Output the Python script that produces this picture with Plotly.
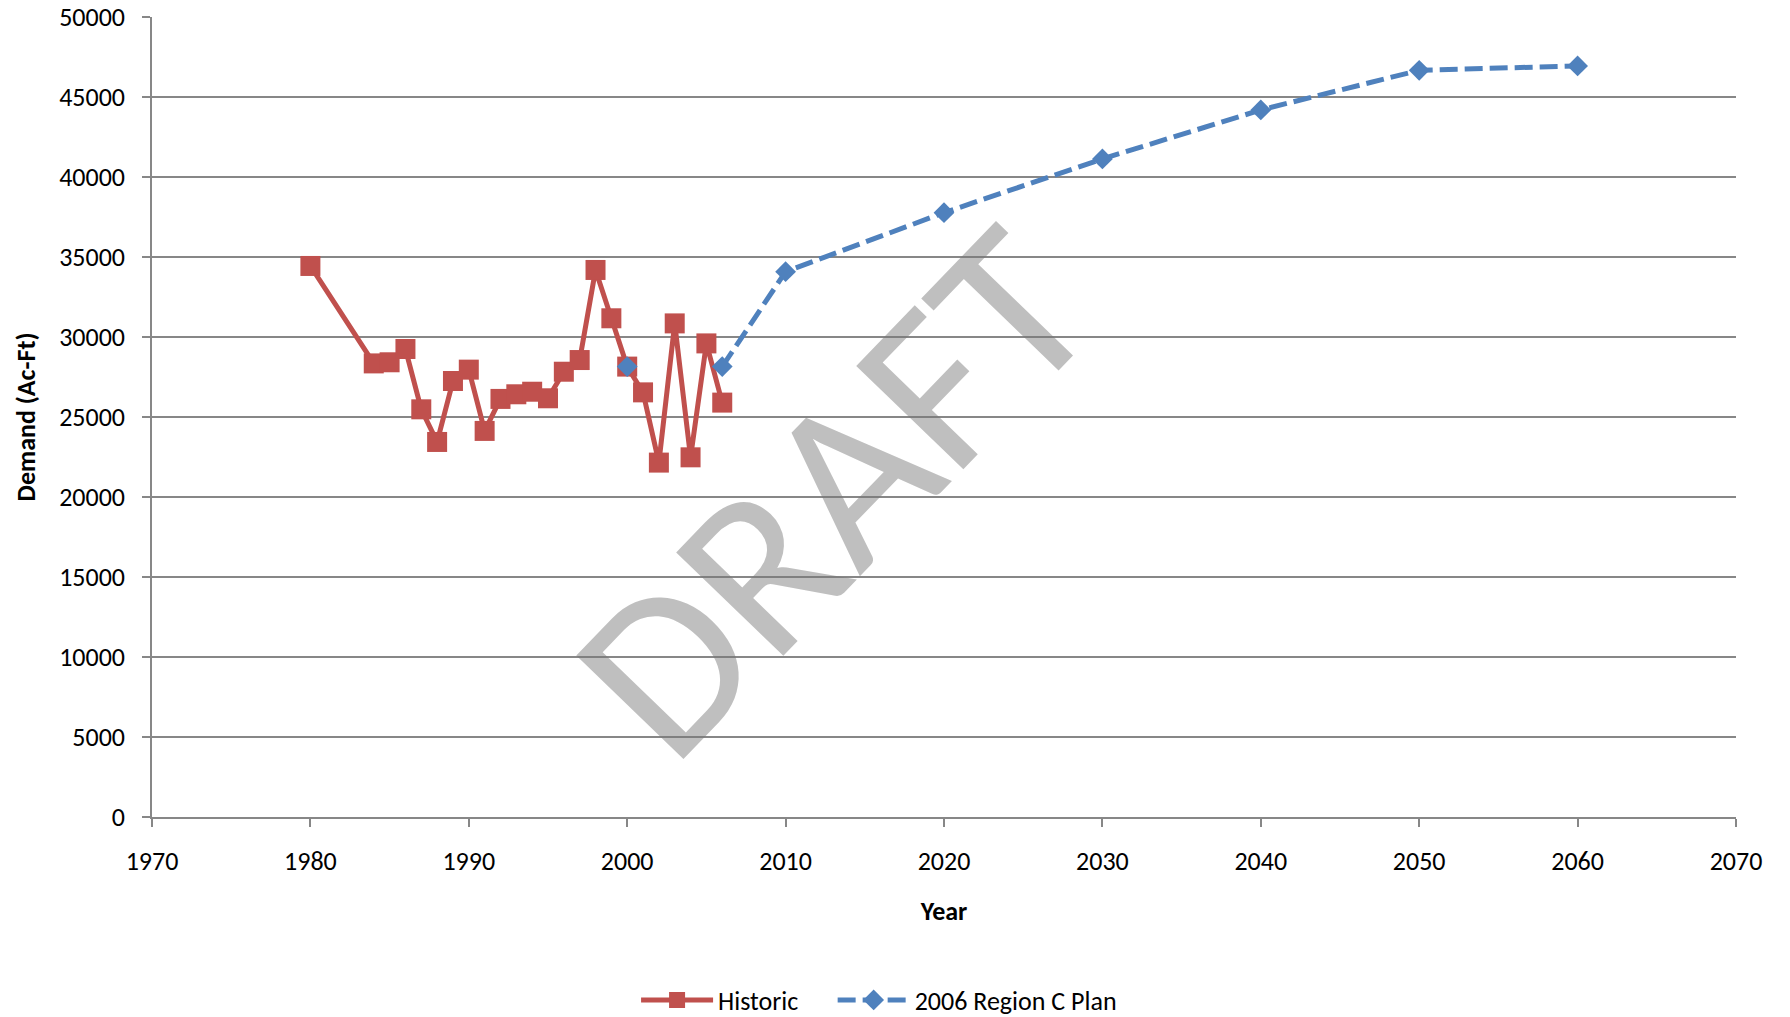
import plotly.graph_objects as go

hist_years = [1980, 1984, 1985, 1986, 1987, 1988, 1989, 1990, 1991, 1992, 1993, 1994,
              1995, 1996, 1997, 1998, 1999, 2000, 2001, 2002, 2003, 2004, 2005, 2006]
hist_values = [34440, 28350, 28420, 29250, 25480, 23440, 27250, 27960, 24130, 26130, 26420, 26580,
               26170, 27830, 28560, 34190, 31170, 28150, 26540, 22150, 30850, 22480, 29600, 25900]

# None marks the gap (no connecting line) between the 2000 value and the 2006 start of the plan
plan_years = [2000, 2003, 2006, 2010, 2020, 2030, 2040, 2050, 2060]
plan_values = [28150, None, 28150, 34080, 37770, 41130, 44190, 46670, 46940]

FONT = "Carlito, Calibri, Lato, sans-serif"
GRID = "#878787"

fig = go.Figure()
fig.add_trace(go.Scatter(
    x=hist_years, y=hist_values, name="Historic", mode="lines+markers",
    legend="legend",
    line=dict(color="#C0504D", width=5),
    marker=dict(symbol="square", size=20, color="#C0504D"),
))
fig.add_trace(go.Scatter(
    x=plan_years, y=plan_values, name="2006 Region C Plan", mode="lines+markers",
    legend="legend2", connectgaps=False,
    line=dict(color="#4F81BD", width=5, dash="18px,7px"),
    marker=dict(symbol="diamond", size=16, color="#4F81BD"),
))

fig.add_annotation(
    text="DRAFT", xref="paper", yref="paper", x=0.4287, y=0.4075,
    showarrow=False, textangle=-46,
    font=dict(family=FONT, size=232, color="rgba(120,120,120,0.47)"),
)

legend_style = dict(orientation="h", xref="paper", xanchor="left",
                    yref="container", y=0.0167, yanchor="middle",
                    font=dict(family=FONT, size=26), itemwidth=72,
                    bgcolor="rgba(0,0,0,0)")

fig.update_layout(
    width=1790, height=1017,
    margin=dict(l=152, r=54, t=17, b=200),
    paper_bgcolor="white", plot_bgcolor="white",
    font=dict(family=FONT, size=26, color="black"),
    showlegend=True,
    legend=dict(x=0.3056, **legend_style),
    legend2=dict(x=0.4297, **legend_style),
)
fig.update_xaxes(
    range=[1970, 2070], dtick=10, tick0=1970, automargin=False,
    showgrid=False, showline=True, linecolor=GRID, linewidth=1.5,
    ticks="outside", ticklen=8, tickcolor=GRID, tickwidth=1.5,
    ticklabelstandoff=12, tickfont=dict(size=26), ticklabeloverflow="allow",
    title=dict(text="<b>Year</b>", font=dict(size=26), standoff=26),
    zeroline=False,
)
fig.update_yaxes(
    range=[0, 50000], dtick=5000, tick0=0, tickformat="d", automargin=False,
    showgrid=True, gridcolor=GRID, gridwidth=1.5,
    showline=True, linecolor=GRID, linewidth=1.5,
    ticks="outside", ticklen=8, tickcolor=GRID, tickwidth=1.5,
    ticklabelstandoff=12, tickfont=dict(size=26), ticklabeloverflow="allow",
    title=dict(text="<b>Demand (Ac-Ft)</b>", font=dict(size=26), standoff=16),
    zeroline=False,
)

# remove the default 8px page margin so the figure fills the window exactly
fig.write_html("out.html", config={"displayModeBar": False},
               post_script="document.body.style.margin='0';")
